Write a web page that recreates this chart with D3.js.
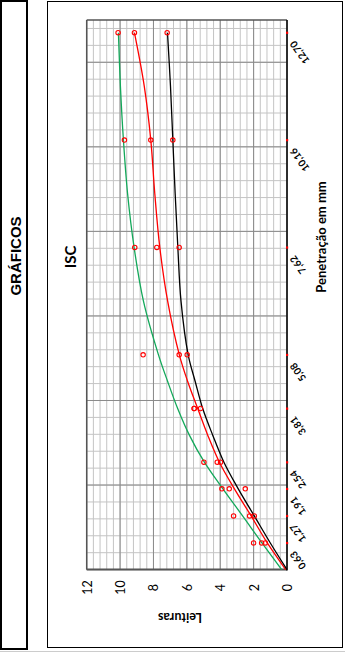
<!DOCTYPE html>
<html>
<head>
<meta charset="utf-8">
<script src="https://cdn.jsdelivr.net/npm/d3@7/dist/d3.min.js"></script>
<style>
  html, body { margin: 0; padding: 0; background: #fff; }
  svg { display: block; }
</style>
</head>
<body>
<svg id="chart" width="345" height="652"></svg>
<script>
// ---- data ----
const penetracao = [0.63, 1.27, 1.91, 2.54, 3.81, 5.08, 7.62, 10.16, 12.70];
const penetracaoLabels = ["0,63", "1,27", "1,91", "2,54", "3,81", "5,08", "7,62", "10,16", "12,70"];
const leituras1 = [2.0, 3.2, 3.9, 4.98, 5.56, 8.62, 9.12, 9.74, 10.12];
const leituras2 = [1.52, 2.24, 3.46, 4.18, 5.56, 6.46, 7.8, 8.16, 9.14];
const leituras3 = [1.3, 1.96, 2.5, 3.98, 5.18, 5.98, 6.46, 6.84, 7.18];

// trend lines
const trendX = [0, 0.63, 1.27, 1.91, 2.54, 3.18, 3.81, 4.45, 5.08, 6.35, 7.62, 8.89, 10.16, 11.43, 12.70];
const trend1 = [0.32, 1.5, 2.66, 3.84, 4.95, 5.85, 6.55, 7.15, 7.7, 8.6, 9.16, 9.55, 9.8, 9.98, 10.1];
const trend2 = [0.08, 1.18, 2.15, 3.15, 4.05, 4.75, 5.35, 5.95, 6.45, 7.15, 7.62, 7.92, 8.16, 8.55, 9.14];
const trend3 = [0.0, 1.0, 1.96, 2.92, 3.78, 4.45, 5.05, 5.5, 5.92, 6.35, 6.54, 6.7, 6.84, 6.98, 7.16];

const leiturasTicks = [0, 2, 4, 6, 8, 10, 12];

const svg = d3.select("#chart");
svg.append("rect").attr("width", 345).attr("height", 652).attr("fill", "#fff");

// page frame
svg.append("rect").attr("x", 1).attr("y", 1).attr("width", 26).attr("height", 648)
  .attr("fill", "none").attr("stroke", "#000").attr("stroke-width", 2);
svg.append("line").attr("x1", 0).attr("x2", 345).attr("y1", 651.5).attr("y2", 651.5)
  .attr("stroke", "#ccc").attr("stroke-width", 1);
svg.append("text").attr("transform", "translate(15,256) rotate(-90)")
  .attr("text-anchor", "middle").attr("dominant-baseline", "central")
  .attr("font-family", "Liberation Sans, Arial, sans-serif").attr("font-weight", "bold")
  .attr("font-size", 15).text("GRÁFICOS");

// chart box
svg.append("rect").attr("x", 47.5).attr("y", 1.5).attr("width", 295).attr("height", 646)
  .attr("fill", "none").attr("stroke", "#000").attr("stroke-width", 1);

// scales: chart is rotated -90deg: penetration runs up the page, readings run right-to-left
const x = d3.scaleLinear().domain([0, 13]).range([569.6, 20]);   // page y
const y = d3.scaleLinear().domain([0, 12]).range([287, 86.7]);   // page x

const g = svg.append("g");

// minor grid
const minorX = d3.range(0, 13.001, 0.4);
const minorY = d3.range(0, 12.001, 0.4);
g.selectAll(".mx").data(minorX).join("line")
  .attr("x1", y(0)).attr("x2", y(12)).attr("y1", d => x(d)).attr("y2", d => x(d))
  .attr("stroke", "#c4c4c4").attr("stroke-width", 1);
g.selectAll(".my").data(minorY).join("line")
  .attr("y1", x(0)).attr("y2", x(13)).attr("x1", d => y(d)).attr("x2", d => y(d))
  .attr("stroke", "#c4c4c4").attr("stroke-width", 1);
// major grid
g.selectAll(".Mx").data(d3.range(0, 13, 2)).join("line")
  .attr("x1", y(0)).attr("x2", y(12)).attr("y1", d => x(d)).attr("y2", d => x(d))
  .attr("stroke", "#8a8a8a").attr("stroke-width", 1);
g.selectAll(".My").data(leiturasTicks).join("line")
  .attr("y1", x(0)).attr("y2", x(13)).attr("x1", d => y(d)).attr("x2", d => y(d))
  .attr("stroke", "#8a8a8a").attr("stroke-width", 1);

// plot borders
g.append("line").attr("x1", y(12)).attr("x2", y(12)).attr("y1", x(0)).attr("y2", x(13))
  .attr("stroke", "#555").attr("stroke-width", 1.5);
g.append("line").attr("x1", y(12)).attr("x2", y(0)).attr("y1", x(13)).attr("y2", x(13))
  .attr("stroke", "#555").attr("stroke-width", 1.5);
g.append("line").attr("x1", y(12)).attr("x2", y(0)).attr("y1", x(0)).attr("y2", x(0))
  .attr("stroke", "#555").attr("stroke-width", 2);
g.append("line").attr("x1", y(0)).attr("x2", y(0)).attr("y1", x(0) + 1).attr("y2", x(13))
  .attr("stroke", "#000").attr("stroke-width", 1.5);

// Leituras axis (along the bottom of the page)
const axL = d3.axisBottom(y).tickValues(leiturasTicks).tickSize(0).tickPadding(0);
const gL = svg.append("g").attr("transform", `translate(0,${x(0)})`).call(axL);
gL.select(".domain").remove();
gL.selectAll("text")
  .attr("y", null).attr("dy", null)
  .attr("transform", "translate(0,18) rotate(-90)")
  .attr("text-anchor", "middle").attr("dominant-baseline", "central")
  .attr("font-family", "Lato, Open Sans, sans-serif").attr("font-size", 12.5).attr("fill", "#000");

// Penetração axis (along the right)
const axP = d3.axisRight(x).tickValues(penetracao).tickSize(0).tickPadding(0)
  .tickFormat((d, i) => penetracaoLabels[i]);
const gP = svg.append("g").attr("transform", `translate(${y(0)},0)`).call(axP);
gP.select(".domain").remove();
gP.selectAll("text")
  .attr("x", null).attr("dy", null)
  .attr("transform", "translate(5,9) rotate(-125)")
  .attr("text-anchor", "end").attr("dominant-baseline", "central")
  .attr("font-family", "Lato, Open Sans, sans-serif").attr("font-weight", "bold")
  .attr("font-size", 10).attr("fill", "#000");
// red axis markers
svg.selectAll(".am").data(penetracao).join("rect")
  .attr("x", y(0) - 1).attr("y", d => x(d) - 1).attr("width", 2.2).attr("height", 2.2)
  .attr("fill", "#f00");

// trend lines
const line = d3.line().x(d => y(d[1])).y(d => x(d[0])).curve(d3.curveCatmullRom.alpha(0.5));
const trends = [[trend1, "#13a85a"], [trend2, "#f00"], [trend3, "#000"]];
trends.forEach(([t, c]) => {
  svg.append("path").datum(trendX.map((p, i) => [p, t[i]]))
    .attr("d", line).attr("fill", "none").attr("stroke", c).attr("stroke-width", 1.3);
});

// markers
[leituras1, leituras2, leituras3].forEach(s => {
  svg.append("g").selectAll("circle").data(penetracao.map((p, i) => [p, s[i]])).join("circle")
    .attr("cx", d => y(d[1])).attr("cy", d => x(d[0])).attr("r", 2.2)
    .attr("fill", "none").attr("stroke", "#f00").attr("stroke-width", 1.1);
});

// titles
svg.append("text").attr("transform", "translate(70,257) rotate(-90)")
  .attr("text-anchor", "middle").attr("dominant-baseline", "central")
  .attr("font-family", "Lato, Open Sans, sans-serif").attr("font-weight", "bold")
  .attr("font-size", 15).text("ISC");
svg.append("text").attr("transform", "translate(321,237) rotate(-90)")
  .attr("text-anchor", "middle").attr("dominant-baseline", "central")
  .attr("font-family", "Lato, Open Sans, sans-serif").attr("font-weight", "bold")
  .attr("font-size", 13).text("Penetração em mm");
svg.append("text").attr("transform", "translate(180,617) rotate(180)")
  .attr("text-anchor", "middle").attr("dominant-baseline", "central")
  .attr("font-family", "Lato, Open Sans, sans-serif").attr("font-weight", "bold")
  .attr("font-size", 12.5).text("Leituras");
</script>
</body>
</html>
